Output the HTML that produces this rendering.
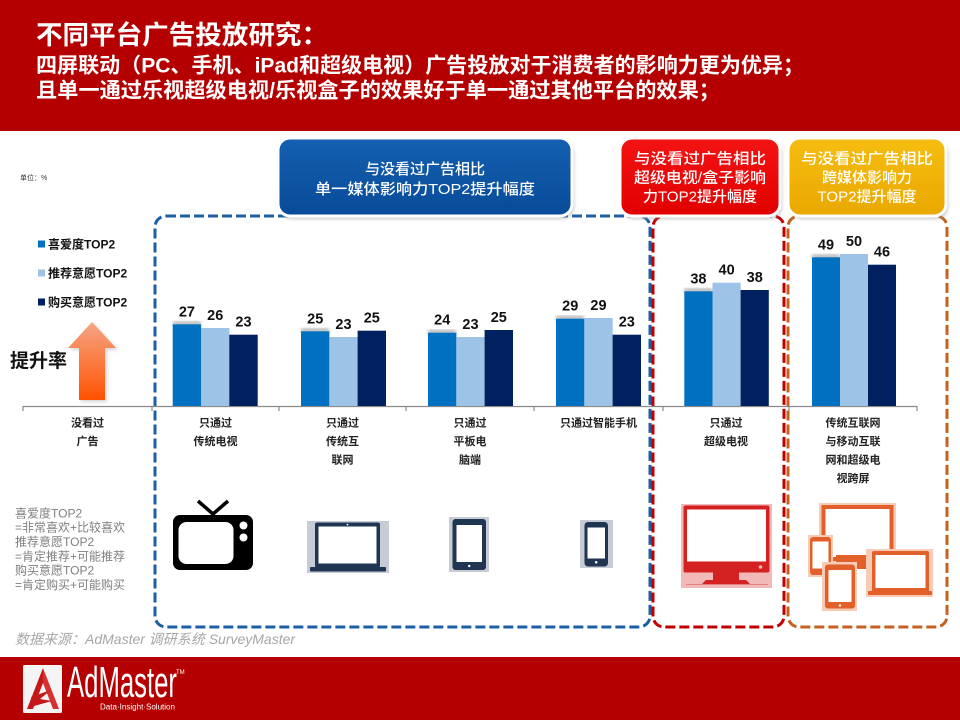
<!DOCTYPE html>
<html><head><meta charset="utf-8">
<style>
html,body{margin:0;padding:0;background:#fff;}
svg{display:block;}
text{font-family:"Liberation Sans","Noto Sans CJK SC",sans-serif;}
</style></head>
<body>
<svg width="960" height="720" viewBox="0 0 960 720" xmlns="http://www.w3.org/2000/svg">
<defs>
<linearGradient id="arr" x1="0" y1="0" x2="0" y2="1">
<stop offset="0" stop-color="#f5a585"/><stop offset="1" stop-color="#ff5200"/>
</linearGradient>
<linearGradient id="bluebox" x1="0" y1="0" x2="0" y2="1">
<stop offset="0" stop-color="#1560b0"/><stop offset="1" stop-color="#074b98"/>
</linearGradient>
<linearGradient id="redbox" x1="0" y1="0" x2="0" y2="1">
<stop offset="0" stop-color="#f41414"/><stop offset="1" stop-color="#e00000"/>
</linearGradient>
<linearGradient id="yelbox" x1="0" y1="0" x2="0" y2="1">
<stop offset="0" stop-color="#f6bd10"/><stop offset="1" stop-color="#eaa800"/>
</linearGradient>
<filter id="sh" x="-10%" y="-10%" width="120%" height="130%"><feGaussianBlur stdDeviation="1.5"/></filter>
</defs>

<!-- header band -->
<rect x="0" y="0" width="960" height="131" fill="#b40000"/>
<text x="36" y="44" font-size="26" font-weight="bold" fill="#fff" textLength="292" lengthAdjust="spacingAndGlyphs">不同平台广告投放研究：</text>
<text x="36" y="72.5" font-size="21" font-weight="bold" fill="#fff" textLength="768" lengthAdjust="spacingAndGlyphs">四屏联动（PC、手机、iPad和超级电视）广告投放对于消费者的影响力更为优异；</text>
<text x="36" y="97.5" font-size="21" font-weight="bold" fill="#fff" textLength="684" lengthAdjust="spacingAndGlyphs">且单一通过乐视超级电视/乐视盒子的效果好于单一通过其他平台的效果；</text>

<!-- unit -->
<text x="20" y="180" font-size="7" fill="#333">单位：%</text>

<!-- dashed boxes -->
<rect x="155" y="216" width="495" height="411" rx="11" fill="none" stroke="#1d5fa6" stroke-width="3" stroke-dasharray="10 4"/>
<rect x="653" y="216" width="131" height="411" rx="11" fill="none" stroke="#c00000" stroke-width="3" stroke-dasharray="10 4"/>
<rect x="788" y="216" width="159" height="411" rx="11" fill="none" stroke="#c6601f" stroke-width="3" stroke-dasharray="10 4"/>

<!-- header callout boxes -->
<rect x="280" y="141" width="294" height="78" rx="12" fill="#999" opacity="0.5" filter="url(#sh)"/>
<rect x="278" y="138" width="294" height="78" rx="12" fill="url(#bluebox)" stroke="#fff" stroke-width="3"/>
<text x="425" y="174" font-size="15" font-weight="500" fill="#fff" text-anchor="middle">与没看过广告相比</text>
<text x="425" y="194" font-size="15" font-weight="500" fill="#fff" text-anchor="middle" textLength="220" lengthAdjust="spacingAndGlyphs">单一媒体影响力TOP2提升幅度</text>

<rect x="622" y="141" width="160" height="78" rx="12" fill="#999" opacity="0.5" filter="url(#sh)"/>
<rect x="620" y="138" width="160" height="78" rx="12" fill="url(#redbox)" stroke="#fff" stroke-width="3"/>
<text x="700" y="163.5" font-size="15" font-weight="500" fill="#fff" text-anchor="middle" textLength="132" lengthAdjust="spacingAndGlyphs">与没看过广告相比</text>
<text x="700" y="182.5" font-size="15" font-weight="500" fill="#fff" text-anchor="middle" textLength="132" lengthAdjust="spacingAndGlyphs">超级电视/盒子影响</text>
<text x="700" y="201.5" font-size="15" font-weight="500" fill="#fff" text-anchor="middle">力TOP2提升幅度</text>

<rect x="790" y="141" width="158" height="78" rx="12" fill="#999" opacity="0.5" filter="url(#sh)"/>
<rect x="788" y="138" width="158" height="78" rx="12" fill="url(#yelbox)" stroke="#fff" stroke-width="3"/>
<text x="867" y="163.5" font-size="15" font-weight="500" fill="#fff" text-anchor="middle" textLength="132" lengthAdjust="spacingAndGlyphs">与没看过广告相比</text>
<text x="867" y="182.5" font-size="15" font-weight="500" fill="#fff" text-anchor="middle">跨媒体影响力</text>
<text x="867" y="201.5" font-size="15" font-weight="500" fill="#fff" text-anchor="middle">TOP2提升幅度</text>

<!-- legend -->
<rect x="38" y="240.5" width="7" height="7" fill="#0070c0"/>
<text x="48" y="248.5" font-size="12" font-weight="bold" fill="#111">喜爱度TOP2</text>
<rect x="38" y="269.5" width="7" height="7" fill="#9dc3e6"/>
<text x="48" y="277.5" font-size="12" font-weight="bold" fill="#111">推荐意愿TOP2</text>
<rect x="38" y="298.5" width="7" height="7" fill="#002060"/>
<text x="48" y="306.5" font-size="12" font-weight="bold" fill="#111">购买意愿TOP2</text>

<!-- arrow -->
<polygon points="94,324 118,350 107,350 107,402 81,402 81,350 70,350" fill="#888" opacity="0.35" filter="url(#sh)"/>
<polygon points="92,322 116,348 105,348 105,400 79,400 79,348 68,348" fill="url(#arr)"/>
<text x="10" y="367" font-size="19" font-weight="bold" fill="#111">提升率</text>

<!-- axis -->
<line x1="23" y1="406.5" x2="917" y2="406.5" stroke="#8a8a8a" stroke-width="1.2"/>
<g stroke="#8a8a8a" stroke-width="1.2">
<line x1="23" y1="406" x2="23" y2="411"/><line x1="152" y1="406" x2="152" y2="411"/>
<line x1="279" y1="406" x2="279" y2="411"/><line x1="406" y1="406" x2="406" y2="411"/>
<line x1="534" y1="406" x2="534" y2="411"/><line x1="663" y1="406" x2="663" y2="411"/>
<line x1="789" y1="406" x2="789" y2="411"/><line x1="917" y1="406" x2="917" y2="411"/>
</g>

<!-- bars -->
<g>
<rect x="173" y="321" width="28" height="5" fill="#888" opacity="0.55" filter="url(#sh)"/>
<rect x="172.7" y="324.3" width="28.4" height="81.7" fill="#0070c0"/>
<rect x="201" y="328" width="28.4" height="78" fill="#9dc3e6"/>
<rect x="229.3" y="334.7" width="28.4" height="71.3" fill="#002060"/>
<rect x="301" y="328" width="28" height="5" fill="#888" opacity="0.55" filter="url(#sh)"/>
<rect x="301" y="331.3" width="28.4" height="74.7" fill="#0070c0"/>
<rect x="329.3" y="337" width="28.4" height="69" fill="#9dc3e6"/>
<rect x="357.6" y="330.7" width="28.4" height="75.3" fill="#002060"/>
<rect x="428" y="329.5" width="28" height="5" fill="#888" opacity="0.55" filter="url(#sh)"/>
<rect x="428" y="332.7" width="28.4" height="73.3" fill="#0070c0"/>
<rect x="456.3" y="337" width="28.4" height="69" fill="#9dc3e6"/>
<rect x="484.6" y="330" width="28.4" height="76" fill="#002060"/>
<rect x="556" y="315.5" width="28" height="5" fill="#888" opacity="0.55" filter="url(#sh)"/>
<rect x="556" y="318.7" width="28.4" height="87.3" fill="#0070c0"/>
<rect x="584.3" y="318" width="28.4" height="88" fill="#9dc3e6"/>
<rect x="612.6" y="334.7" width="28.4" height="71.3" fill="#002060"/>
<rect x="684.3" y="288" width="28" height="5" fill="#888" opacity="0.55" filter="url(#sh)"/>
<rect x="684.3" y="291.3" width="28.2" height="114.7" fill="#0070c0"/>
<rect x="712.5" y="282.7" width="28.2" height="123.3" fill="#9dc3e6"/>
<rect x="740.6" y="290" width="28.2" height="116" fill="#002060"/>
<rect x="812" y="254" width="28" height="5" fill="#888" opacity="0.55" filter="url(#sh)"/>
<rect x="812" y="257.3" width="28" height="148.7" fill="#0070c0"/>
<rect x="840" y="254" width="28" height="152" fill="#9dc3e6"/>
<rect x="868" y="264.7" width="28" height="141.3" fill="#002060"/>
</g>

<!-- value labels -->
<g font-size="14.5" font-weight="bold" fill="#111" text-anchor="middle">
<text x="186.9" y="316.3">27</text><text x="215.2" y="320">26</text><text x="243.5" y="326.7">23</text>
<text x="315.2" y="323.3">25</text><text x="343.5" y="329">23</text><text x="371.8" y="322.7">25</text>
<text x="442.2" y="324.7">24</text><text x="470.5" y="329">23</text><text x="498.8" y="322">25</text>
<text x="570.2" y="310.7">29</text><text x="598.5" y="310">29</text><text x="626.8" y="326.7">23</text>
<text x="698.4" y="283.3">38</text><text x="726.6" y="274.7">40</text><text x="754.7" y="282">38</text>
<text x="826" y="249.3">49</text><text x="854" y="246">50</text><text x="882" y="256.7">46</text>
</g>

<!-- category labels -->
<g font-size="11" font-weight="bold" fill="#222" text-anchor="middle">
<text x="87.5" y="426.5">没看过</text><text x="87.5" y="445">广告</text>
<text x="215.5" y="426.5">只通过</text><text x="215.5" y="445">传统电视</text>
<text x="342.5" y="426.5">只通过</text><text x="342.5" y="445">传统互</text><text x="342.5" y="463.5">联网</text>
<text x="470" y="426.5">只通过</text><text x="470" y="445">平板电</text><text x="470" y="463.5">脑端</text>
<text x="598.5" y="426.5">只通过智能手机</text>
<text x="726" y="426.5">只通过</text><text x="726" y="445">超级电视</text>
<text x="853" y="426.5">传统互联网</text><text x="853" y="445">与移动互联</text><text x="853" y="463.5">网和超级电</text><text x="853" y="482">视跨屏</text>
</g>

<!-- footnote -->
<g font-size="12" fill="#7f7f7f">
<text x="15" y="517.5">喜爱度TOP2</text>
<text x="15" y="531.5">=非常喜欢+比较喜欢</text>
<text x="15" y="546">推荐意愿TOP2</text>
<text x="15" y="560.5">=肯定推荐+可能推荐</text>
<text x="15" y="574.5">购买意愿TOP2</text>
<text x="15" y="589">=肯定购买+可能购买</text>
</g>
<text x="15" y="644" font-size="14" font-style="italic" fill="#a6a6a6">数据来源：AdMaster 调研系统 SurveyMaster</text>

<!-- TV icon -->
<g>
<polyline points="198,501 213,514 228,501" fill="none" stroke="#000" stroke-width="3.5"/>
<rect x="173" y="515" width="80" height="55" rx="7" fill="#000"/>
<rect x="178.5" y="522" width="55" height="42" rx="8" fill="#fff"/>
<circle cx="243.5" cy="525.5" r="4" fill="#fff"/>
<circle cx="243.5" cy="537.5" r="4" fill="#fff"/>
</g>
<!-- laptop icon -->
<g>
<rect x="307" y="521" width="82" height="52" fill="#c7ccd4"/>
<rect x="315" y="522.5" width="65" height="45" rx="2" fill="#1f3552"/>
<rect x="318.5" y="526.5" width="58" height="37" fill="#fff"/>
<circle cx="347.5" cy="524.6" r="0.9" fill="#fff"/>
<rect x="310" y="567" width="76" height="4.5" rx="1" fill="#1f3552"/>
</g>
<!-- tablet -->
<g>
<rect x="449" y="517" width="40" height="55" fill="#c7ccd4"/>
<rect x="452.5" y="519" width="33.5" height="51" rx="3" fill="#1f3552"/>
<rect x="456.5" y="525" width="25.5" height="37" fill="#fff"/>
<circle cx="469.2" cy="566" r="1.2" fill="#fff"/>
</g>
<!-- phone -->
<g>
<rect x="580" y="520" width="33" height="48" fill="#c7ccd4"/>
<rect x="584.5" y="522" width="23.5" height="44.5" rx="3.5" fill="#1f3552"/>
<rect x="587.5" y="527.5" width="17.5" height="31" fill="#fff"/>
<circle cx="596.2" cy="562.3" r="1.3" fill="#fff"/>
</g>
<!-- red monitor -->
<g>
<rect x="681" y="504" width="91" height="84" fill="#f2b9b9"/>
<rect x="683.5" y="505.5" width="86" height="67" rx="2" fill="#d42121"/>
<rect x="687" y="509.5" width="79" height="52" fill="#fff"/>
<circle cx="760.5" cy="567" r="1.8" fill="#f7b5b5"/>
<rect x="713" y="572.5" width="26" height="8" fill="#d42121"/>
<polygon points="702,584 706,580 746,580 750,584" fill="#d42121"/>
<rect x="686" y="584" width="82" height="1" fill="#e58080"/>
</g>
<!-- multi devices -->
<g>
<rect x="819" y="503" width="77" height="60" fill="#f7cbb6"/>
<rect x="821.5" y="505" width="72" height="56" fill="#e2612a"/>
<rect x="825.5" y="509" width="64" height="48" fill="#fff"/>
<rect x="836" y="555" width="36" height="14" fill="#e2612a"/>
<rect x="808" y="535" width="25" height="42" fill="#f7cbb6"/>
<rect x="810" y="537" width="21" height="38" rx="3" fill="#e2612a"/>
<rect x="812.5" y="541.5" width="16" height="27" fill="#fff"/>
<rect x="822" y="562" width="35" height="49" fill="#f7cbb6"/>
<rect x="825" y="564.5" width="30" height="44" rx="3" fill="#e2612a"/>
<rect x="828.5" y="570" width="23" height="32" fill="#fff"/>
<circle cx="840" cy="605.5" r="1.2" fill="#fff"/>
<rect x="866" y="549" width="67" height="48" fill="#f7cbb6"/>
<rect x="872" y="551" width="57" height="41" rx="2" fill="#e2612a"/>
<rect x="875.5" y="555" width="50" height="33" fill="#fff"/>
<rect x="868" y="591" width="64" height="4" rx="1" fill="#e2612a"/>
</g>

<!-- footer band -->
<rect x="0" y="657" width="960" height="63" fill="#b40000"/>
<rect x="23" y="665" width="39" height="48" rx="1.5" fill="#f4f4f4"/>
<polygon points="43,668 27,709 33,709 43,683" fill="#c41818"/>
<polygon points="43,668 59,709 53,709 43,683" fill="#d83030"/>
<polygon points="31,697 51,690 40,699 52,701 34,706" fill="#c41818"/>
<text x="67" y="697" font-size="44" fill="#fff" textLength="110" lengthAdjust="spacingAndGlyphs">AdMaster</text>
<text x="176" y="674" font-size="6" fill="#fff">TM</text>
<text x="100" y="709.5" font-size="8" fill="#fff" textLength="75" lengthAdjust="spacingAndGlyphs">Data·Insight·Solution</text>
</svg>
</body></html>
